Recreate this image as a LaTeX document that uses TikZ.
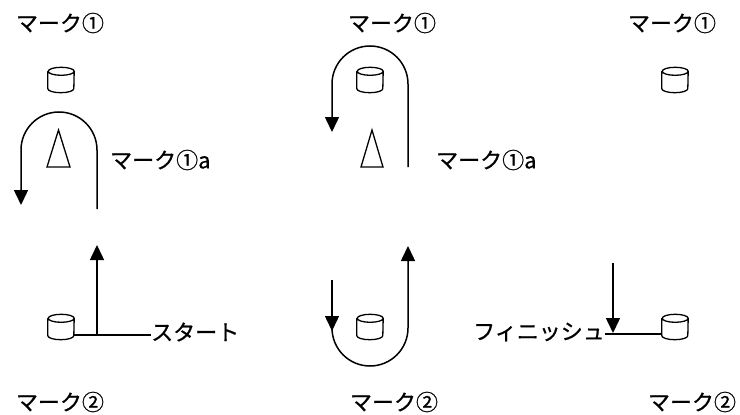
\documentclass[tikz,border=0pt]{standalone}
\usepackage{fontspec}
\setmainfont{Noto Sans CJK JP}[FakeBold=0.7]
\usetikzlibrary{arrows.meta}
\tikzset{
  lbl/.style={inner sep=0pt, font=\fontsize{22}{24}\selectfont},
  canbox/.style={rectangle, draw=none, minimum width=26pt, minimum height=25pt, inner sep=0pt},
  canline/.style={line width=1.3pt},
  cone/.style={draw, line width=1.3pt, line join=miter},
  plainline/.style={line width=1.5pt},
  arr/.style={line width=1.5pt, -{Triangle[length=15pt,width=14pt]}},
}
\newcommand\drawcan[1]{%
  \draw[canline] ([yshift=-4pt]#1.north west) -- ([yshift=4pt]#1.south west)
    arc (180:360:13pt and 4pt) -- ([yshift=-4pt]#1.north east)
    arc (0:360:13pt and 4pt);}
\begin{document}
\begin{tikzpicture}[x=1pt,y=-1pt]
\useasboundingbox (0,0) rectangle (740,415);
% left column
\node[lbl] (m1L) at (60,23) {マーク①};
\node[canbox] (cL1) at (61,80) {};
\drawcan{cL1}
\draw[cone] (58.5,130) coordinate (tLa) -- (70,167) coordinate (tLb) -- (47,167) coordinate (tLc) -- cycle;
\coordinate (lpS) at (97,209);
\coordinate (lpE) at (21,205);
\draw[arr] (lpS) -- (97,150) arc (0:-180:38) -- (lpE);
\node[lbl, anchor=west] (m1aL) at (110,160) {マーク①a};
\node[canbox] (cL2) at (61,327) {};
\drawcan{cL2}
\coordinate (stJ) at (97,335);
\coordinate (stT) at (97,245);
\draw[arr] (stJ) -- (stT);
\node[lbl, anchor=west] (start) at (151,332) {スタート};
\draw[plainline] (cL2.east |- stJ) -- (start.west |- stJ);
\node[lbl] (m2L) at (60,402) {マーク②};
% middle column
\node[lbl] (m1M) at (392,23) {マーク①};
\node[canbox] (cM1) at (370,80) {};
\drawcan{cM1}
\draw[cone] (372,130) coordinate (tMa) -- (383,167) coordinate (tMb) -- (361,167) coordinate (tMc) -- cycle;
\coordinate (mpS) at (408,167);
\coordinate (mpE) at (332,132);
\draw[arr] (mpS) -- (408,84) arc (0:-180:38) -- (mpE);
\node[lbl, anchor=west] (m1aM) at (436,160) {マーク①a};
\node[canbox] (cM2) at (370,327) {};
\drawcan{cM2}
\coordinate (dnS) at (332,280);
\coordinate (dnE) at (332,331);
\draw[arr] (dnS) -- (dnE);
\coordinate (uS) at (332,328);
\coordinate (uE) at (408,246);
\draw[arr] (uS) arc (180:0:38) -- (uE);
\node[lbl] (m2M) at (394,402) {マーク②};
% right column
\node[lbl] (m1R) at (672,23) {マーク①};
\node[canbox] (cR1) at (675,80) {};
\drawcan{cR1}
\node[canbox] (cR2) at (675,327) {};
\drawcan{cR2}
\node[lbl, anchor=east] (fin) at (605,332) {フィニッシュ};
\coordinate (fT) at (613,263);
\coordinate (fE) at (613,333);
\draw[arr] (fT) -- (fE);
\draw[plainline] (fin.east |- 0,334) -- (cR2.west |- 0,334);
\node[lbl] (m2R) at (692,402) {マーク②};
\end{tikzpicture}
\end{document}
